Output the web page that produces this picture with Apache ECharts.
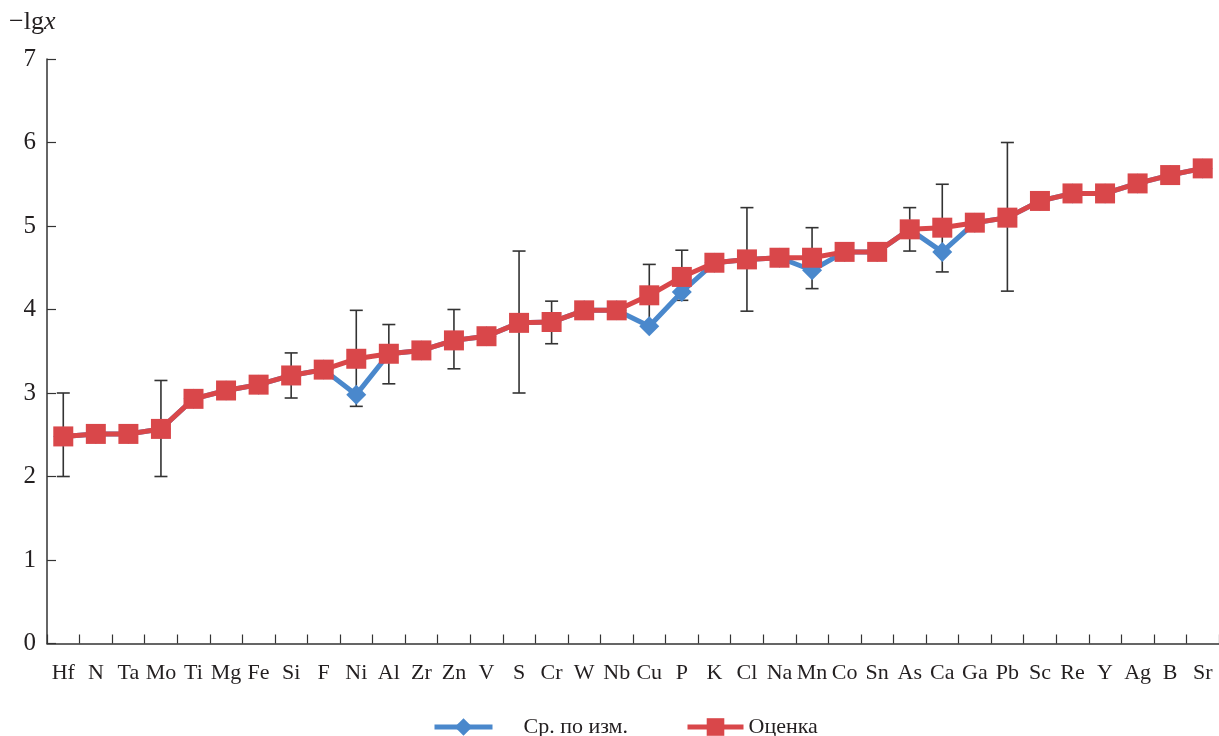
<!DOCTYPE html>
<html>
<head>
<meta charset="utf-8">
<script src="https://cdn.jsdelivr.net/npm/echarts@6/dist/echarts.min.js"></script>
<style>
html,body{margin:0;padding:0;background:#fff;}
#chart{width:1219px;height:736px;}
</style>
</head>
<body>
<div id="chart"></div>
<script>
const categories = ['Hf','N','Ta','Mo','Ti','Mg','Fe','Si','F','Ni','Al','Zr','Zn','V','S','Cr','W','Nb','Cu','P','K','Cl','Na','Mn','Co','Sn','As','Ca','Ga','Pb','Sc','Re','Y','Ag','B','Sr'];
const ocenka = [2.48,2.51,2.51,2.57,2.93,3.03,3.10,3.21,3.28,3.41,3.47,3.51,3.63,3.68,3.84,3.85,3.99,3.99,4.17,4.39,4.56,4.60,4.62,4.62,4.69,4.69,4.96,4.98,5.04,5.10,5.30,5.39,5.39,5.51,5.61,5.69];
const measured = [2.48,2.51,2.51,2.57,2.93,3.03,3.10,3.21,3.28,2.98,3.47,3.51,3.63,3.68,3.84,3.85,3.99,3.99,3.80,4.21,4.56,4.60,4.62,4.47,4.69,4.69,4.96,4.69,5.04,5.10,5.30,5.39,5.39,5.51,5.61,5.69];
const errLow  = [2.00,null,null,2.00,null,null,null,2.94,null,2.84,3.11,null,3.29,null,3.00,3.59,null,null,3.80,4.11,null,3.98,null,4.25,null,null,4.70,4.45,null,4.22,null,null,null,null,null,null];
const errHigh = [3.00,null,null,3.15,null,null,null,3.48,null,3.99,3.82,null,4.00,null,4.70,4.10,null,null,4.54,4.71,null,5.22,null,4.98,null,null,5.22,5.50,null,6.00,null,null,null,null,null,null];
const yTicks = [0,1,2,3,4,5,6,7];

const serif = "'Liberation Serif','Times New Roman',serif";
const textColor = '#231f20';
const red = '#d9474a';
const blue = '#4a88cc';

const errData = [];
categories.forEach((c, i) => {
  if (errLow[i] != null) errData.push([i, errLow[i], errHigh[i]]);
});

const chart = echarts.init(document.getElementById('chart'), null, {renderer: 'canvas'});
chart.setOption({
  animation: false,
  backgroundColor: '#fff',
  grid: {left: 47, right: -5, top: 59, bottom: 92.5, containLabel: false},
  xAxis: {
    type: 'category',
    data: categories,
    boundaryGap: true,
    axisLine: {show: true, lineStyle: {color: '#333', width: 1.5}},
    axisTick: {show: true, inside: true, length: 9, lineStyle: {color: '#333', width: 1.2}},
    axisLabel: {fontFamily: serif, fontSize: 22, color: textColor, margin: 19, interval: 0},
    splitLine: {show: false}
  },
  yAxis: {
    type: 'value',
    min: 0, max: 7, interval: 1,
    axisLine: {show: true, lineStyle: {color: '#333', width: 1.5}},
    axisTick: {show: true, inside: true, length: 9, lineStyle: {color: '#333', width: 1.2}},
    axisLabel: {fontFamily: serif, fontSize: 25, color: textColor, margin: 11,
      formatter: v => yTicks.includes(v) ? String(v) : ''},
    splitLine: {show: false}
  },
  legend: [
    {
      data: ['Ср. по изм.'], left: 427, top: 711, itemWidth: 58, itemHeight: 22, padding: 5,
      lineStyle: {width: 5},
      textStyle: {fontFamily: serif, fontSize: 22, color: textColor, padding: [0,0,0,26]}
    },
    {
      data: ['Оценка'], left: 680, top: 711, itemWidth: 56, itemHeight: 22, padding: 5,
      lineStyle: {width: 5},
      textStyle: {fontFamily: serif, fontSize: 22, color: textColor}
    }
  ],
  graphic: [{
    type: 'text', left: 9, top: 9,
    style: {
      text: '{a|−lg}{b|x}',
      rich: {
        a: {fontFamily: serif, fontSize: 26, fill: textColor},
        b: {fontFamily: serif, fontSize: 26, fontStyle: 'italic', fill: textColor}
      }
    }
  }],
  series: [
    {
      type: 'custom',
      name: 'err',
      z: 1,
      data: errData,
      encode: {x: 0, y: [1, 2]},
      renderItem: function (params, api) {
        const i = api.value(0);
        const top = api.coord([i, api.value(2)]);
        const bot = api.coord([i, api.value(1)]);
        const hw = 6.5;
        const st = {stroke: '#333', lineWidth: 1.6};
        return {
          type: 'group',
          children: [
            {type: 'line', shape: {x1: top[0], y1: top[1], x2: bot[0], y2: bot[1]}, style: st},
            {type: 'line', shape: {x1: top[0]-hw, y1: top[1], x2: top[0]+hw, y2: top[1]}, style: st},
            {type: 'line', shape: {x1: bot[0]-hw, y1: bot[1], x2: bot[0]+hw, y2: bot[1]}, style: st}
          ]
        };
      }
    },
    {
      type: 'line',
      name: 'Ср. по изм.',
      z: 2,
      data: measured,
      symbol: 'diamond',
      symbolSize: 20,
      lineStyle: {color: blue, width: 5},
      itemStyle: {color: blue},
      emphasis: {disabled: true}
    },
    {
      type: 'line',
      name: 'Оценка',
      z: 3,
      data: ocenka,
      symbol: 'rect',
      symbolSize: 20,
      lineStyle: {color: red, width: 5},
      itemStyle: {color: red},
      emphasis: {disabled: true}
    }
  ]
});
</script>
</body>
</html>
